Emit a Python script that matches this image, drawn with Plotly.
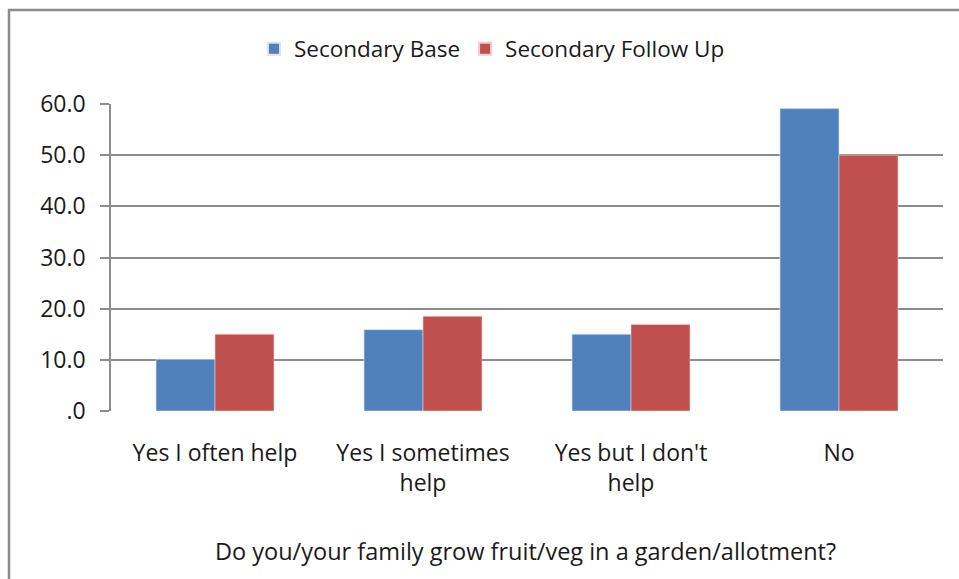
import plotly.graph_objects as go

categories = ["Yes I often help", "Yes I sometimes<br>help", "Yes but I don't<br>help", "No"]
secondary_base = [10.1, 15.9, 15.0, 59.1]
secondary_follow_up = [15.0, 18.5, 16.9, 50.0]
tick_values = [0, 10, 20, 30, 40, 50, 60]
tick_labels = [".0", "10.0", "20.0", "30.0", "40.0", "50.0", "60.0"]
axis_title = "Do you/your family grow fruit/veg in a garden/allotment?"

W, H = 959, 579
L, R, T, B = 111, 16, 104, 168
plot_w = W - L - R
plot_h = H - T - B


def px_x(x):
    return (x - L) / plot_w


def px_y(y):
    return (H - B - y) / plot_h


FONT = "Open Sans"
TEXT = "#1a1a1a"
GRID = "#8c8c8c"

fig = go.Figure()
fig.add_trace(go.Bar(
    x=categories, y=secondary_base, name="Secondary Base",
    marker=dict(color="#4F81BD", line=dict(color="#d9e2ee", width=0.6)),
))
fig.add_trace(go.Bar(
    x=categories, y=secondary_follow_up, name="Secondary Follow Up",
    marker=dict(color="#C0504D", line=dict(color="#ecd0cf", width=0.6)),
))

fig.update_layout(
    width=W, height=H,
    margin=dict(l=L, r=R, t=T, b=B, pad=0),
    paper_bgcolor="white", plot_bgcolor="white",
    barmode="group", bargap=0.433, bargroupgap=0,
    font=dict(family=FONT, size=23, color=TEXT),
    showlegend=True,
    legend=dict(
        orientation="h", x=px_x(492), xanchor="center",
        y=px_y(49), yanchor="middle",
        font=dict(family=FONT, size=22.5, color=TEXT),
        itemsizing="constant", traceorder="normal",
        bgcolor="rgba(0,0,0,0)",
    ),
    xaxis=dict(
        showgrid=False, showline=False, ticks="",
        tickfont=dict(family=FONT, size=23, color=TEXT),
        ticklabelstandoff=26,
    ),
    yaxis=dict(
        range=[0, 60], tickvals=tick_values, ticktext=tick_labels,
        showgrid=True, gridcolor=GRID, gridwidth=1.5,
        showline=True, linecolor=GRID, linewidth=1.5,
        ticks="outside", ticklen=9, tickcolor=GRID, tickwidth=1.5,
        tickfont=dict(family=FONT, size=23, color=TEXT),
        ticklabelstandoff=10,
        zeroline=False,
    ),
    shapes=[dict(
        type="rect", xref="paper", yref="paper",
        x0=px_x(9), x1=px_x(980), y0=px_y(600), y1=px_y(10),
        line=dict(color="#8c8c8c", width=2.5), fillcolor="rgba(0,0,0,0)",
        layer="below",
    )],
    annotations=[dict(
        text=axis_title, xref="paper", yref="paper",
        x=px_x(525), y=px_y(551), xanchor="center", yanchor="middle",
        showarrow=False, font=dict(family=FONT, size=23.5, color=TEXT),
    )],
)

fig.write_html("out.html")
